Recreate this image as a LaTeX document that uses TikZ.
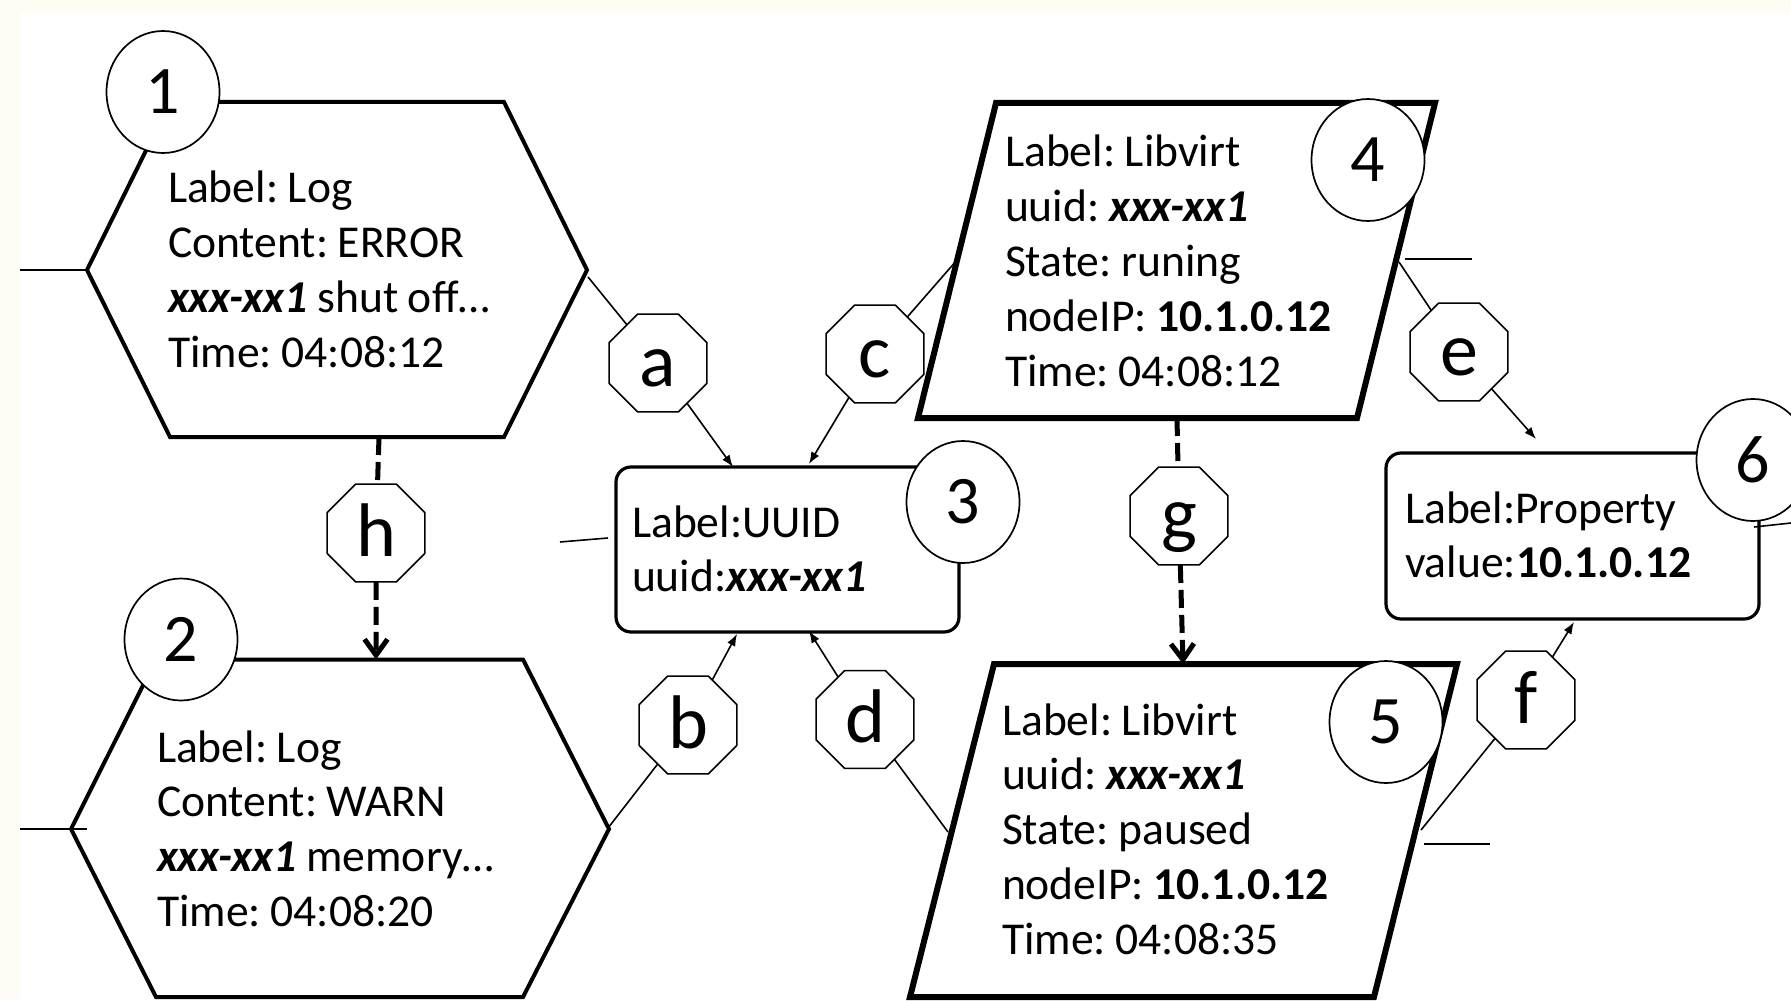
\documentclass[tikz,border=0pt]{standalone}
\usepackage{fontspec}
\setmainfont{Carlito}
\usetikzlibrary{shapes.geometric,arrows.meta}
\definecolor{paper}{RGB}{254,252,245}
\newcommand\tightspaces{\frenchspacing\spaceskip=0.21em\relax}

\begin{document}
\begin{tikzpicture}[x=0.5pt,y=-0.5pt,
  every node/.style={inner sep=0pt, outer sep=0pt},
  body/.style={font=\fontsize{22.8}{27.4}\selectfont, execute at begin node=\tightspaces, text width=200pt, align=left, anchor=base west},
  tag/.style={ellipse, draw, fill=white, line width=0.85pt, minimum width=56.5pt, minimum height=61pt, font=\fontsize{34}{34}\selectfont},
  rel/.style={regular polygon, regular polygon sides=8, draw, fill=white, line width=0.75pt, minimum size=53pt, font=\fontsize{38}{38}\selectfont, text height=26pt, text depth=3pt},
  hexshape/.style={line width=2pt, line join=miter},
  parashape/.style={line width=3pt, line join=miter},
  boxshape/.style={line width=1.6pt, rounded corners=7.5pt},
  link/.style={line width=0.8pt},
  linkto/.style={link, -{Latex[length=6pt,width=4.5pt]}},
  seq/.style={line width=2.5pt, dash pattern=on 9pt off 3.5pt},
  seqto/.style={seq, -{Straight Barb[length=8pt,width=11.5pt]}}
]
% page background with a light margin strip
\fill[paper] (0,0) rectangle (1791,1000);
\fill[white] (20,13) rectangle (1791,1000);
\useasboundingbox (0,0) rectangle (1791,1000);

% ---- log events (hexagons)
\draw[hexshape] (87,270) -- (170,102) -- (504,102) -- (587,270) -- (504,437) -- (170,437) -- cycle;
\draw[hexshape] (71,829) -- (156,659.5) -- (523,659.5) -- (609,829) -- (523,997) -- (156,997) -- cycle;

% ---- libvirt events (parallelograms)
\draw[parashape] (996,103) -- (1435,103) -- (1357,418) -- (918,418) -- cycle;
\draw[parashape] (994,664) -- (1457,664) -- (1374,997) -- (910,997) -- cycle;

% ---- entity boxes
\draw[boxshape] (616,467) rectangle (959,632);
\draw[boxshape] (1386,453) rectangle (1759,619);

% ---- contents
\node[body] (t1) at (168,203) {Label: Log\\Content: ERROR\\\textbf{\textit{xxx-xx1}} shut off…\\Time: 04:08:12};
\node[body] (t2) at (157,762) {Label: Log\\Content: WARN\\\textbf{\textit{xxx-xx1}} memory…\\Time: 04:08:20};
\node[body] (t3) at (632,537) {Label:UUID\\uuid:\textbf{\textit{xxx-xx1}}};
\node[body] (t4) at (1005,167) {Label: Libvirt\\uuid: \textbf{\textit{xxx-xx1}}\\State: runing\\nodeIP: \textbf{10.1.0.12}\\Time: 04:08:12};
\node[body] (t5) at (1002,735) {Label: Libvirt\\uuid: \textbf{\textit{xxx-xx1}}\\State: paused\\nodeIP: \textbf{10.1.0.12}\\Time: 04:08:35};
\node[body] (t6) at (1405,523) {Label:Property\\value:\textbf{10.1.0.12}};

% ---- connector end points on the shapes
\coordinate (h1E) at (588,277);
\coordinate (h1S) at (379,437);
\coordinate (h2N) at (376,659.5);
\coordinate (h2E) at (608,828);
\coordinate (p4W) at (957,260);
\coordinate (p4E) at (1399,262);
\coordinate (p4S) at (1177,418);
\coordinate (p5N) at (1183,664);
\coordinate (p5W) at (948,832);
\coordinate (p5E) at (1421,830);
\coordinate (u3a) at (733,467);
\coordinate (u3c) at (809,464);
\coordinate (u3b) at (737,634);
\coordinate (u3d) at (809,631);
\coordinate (v6e) at (1536,439);
\coordinate (v6f) at (1574,622);

% ---- relation labels
\node[rel] (ra) at (658,363) {a};
\node[rel] (rb) at (688,725) {b};
\node[rel] (rc) at (875,354) {c};
\node[rel] (rd) at (865,719.5) {d};
\node[rel] (re) at (1459,352) {e};
\node[rel] (rf) at (1526,700) {f};
\node[rel] (rg) at (1179,516) {g};
\node[rel] (rh) at (376,533) {h};

% ---- relations
\draw[link] (h1E) -- (ra);  \draw[linkto] (ra) -- (u3a);
\draw[link] (h2E) -- (rb);  \draw[linkto] (rb) -- (u3b);
\draw[link] (p4W) -- (rc);  \draw[linkto] (rc) -- (u3c);
\draw[link] (p5W) -- (rd);  \draw[linkto] (rd) -- (u3d);
\draw[link] (p4E) -- (re);  \draw[linkto] (re) -- (v6e);
\draw[link] (p5E) -- (rf);  \draw[linkto] (rf) -- (v6f);
\draw[seq] (h1S) -- (rh);   \draw[seqto] (rh) -- (h2N);
\draw[seq] (p4S) -- (rg);   \draw[seqto] (rg) -- (p5N);

% ---- loose edge stubs
\coordinate (s1a) at (20,270);   \coordinate (s1b) at (87,270);
\coordinate (s2a) at (20,829);   \coordinate (s2b) at (87,829);
\coordinate (s3a) at (560,542);  \coordinate (s3b) at (608,538);
\coordinate (s4a) at (1405,259); \coordinate (s4b) at (1472,259);
\coordinate (s5a) at (1424,844); \coordinate (s5b) at (1490,844);
\coordinate (s6a) at (1754,527); \coordinate (s6b) at (1791,523);
\draw[link] (s1a) -- (s1b);
\draw[link] (s2a) -- (s2b);
\draw[link] (s3a) -- (s3b);
\draw[link] (s4a) -- (s4b);
\draw[link] (s5a) -- (s5b);
\draw[link] (s6a) -- (s6b);

% ---- numbered markers
\node[tag] (n1) at (163,92) {1};
\node[tag] (n2) at (181,639.5) {2};
\node[tag] (n3) at (963,502) {3};
\node[tag] (n4) at (1368,160) {4};
\node[tag] (n5) at (1386,722) {5};
\node[tag] (n6) at (1753,460) {6};
\end{tikzpicture}
\end{document}
